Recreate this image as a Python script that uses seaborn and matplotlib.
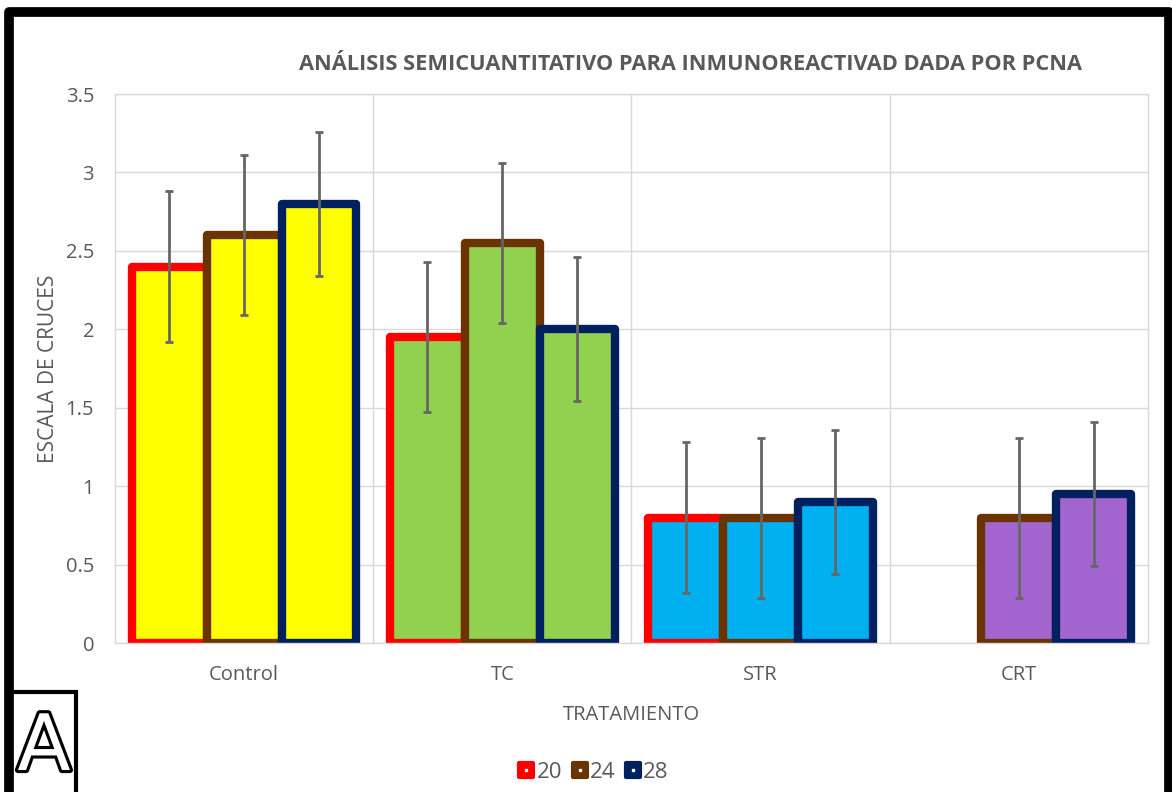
import numpy as np
import pandas as pd
import matplotlib
matplotlib.use("Agg")
import matplotlib.pyplot as plt
import matplotlib.patches as mpatches
import matplotlib.patheffects as pe
from matplotlib.lines import Line2D
from matplotlib.markers import MarkerStyle
from matplotlib.legend_handler import HandlerTuple
import seaborn as sns

# Data: semiquantitative PCNA score per treatment and day
categories = ["Control", "TC", "STR", "CRT"]
groups = ["20", "24", "28"]
vals_20 = [2.4, 1.95, 0.8, np.nan]
vals_24 = [2.6, 2.55, 0.8, 0.8]
vals_28 = [2.8, 2.0, 0.9, 0.95]
err_20 = [0.48, 0.48, 0.48, np.nan]
err_24 = [0.51, 0.51, 0.51, 0.51]
err_28 = [0.46, 0.46, 0.46, 0.46]
y_ticks = [0, 0.5, 1, 1.5, 2, 2.5, 3, 3.5]
y_tick_labels = ["0", "0.5", "1", "1.5", "2", "2.5", "3", "3.5"]

title = "ANÁLISIS SEMICUANTITATIVO PARA INMUNOREACTIVAD DADA POR PCNA"
xlabel = "TRATAMIENTO"
ylabel = "ESCALA DE CRUCES"

fill_colors = ["#FFFF00", "#92D050", "#00B0F0", "#A366D1"]
edge_colors = ["#FF0000", "#6B3300", "#002060"]
text_gray = "#595959"
grid_gray = "#D9D9D9"

values = {"20": vals_20, "24": vals_24, "28": vals_28}
errors = {"20": err_20, "24": err_24, "28": err_28}

rows = []
for g in groups:
    for c, v in zip(categories, values[g]):
        if not np.isnan(v):
            rows.append({"Tratamiento": c, "Dia": g, "Valor": v})
df = pd.DataFrame(rows)

sns.set_theme(style="white")
plt.rcParams["font.family"] = ["Open Sans", "DejaVu Sans"]

fig = plt.figure(figsize=(11.72, 7.92), dpi=100)
ax = fig.add_axes([0.0981, 0.1881, 0.8814, 0.6932])

sns.barplot(data=df, x="Tratamiento", y="Valor", hue="Dia",
            order=categories, hue_order=groups, width=0.87,
            errorbar=None, legend=False, ax=ax)

# Styling each bar: fill by treatment, thick edge by day
bar_containers = list(ax.containers)
for gi, cont in enumerate(bar_containers):
    g = groups[gi]
    for bar in cont:
        cx = bar.get_x() + bar.get_width() / 2
        ci = int(round(cx))
        bar.set_facecolor(fill_colors[ci])
        bar.set_edgecolor(edge_colors[gi])
        bar.set_linewidth(6)
        bar.set_joinstyle("round")
        ax.errorbar(cx, bar.get_height(), yerr=errors[g][ci], fmt="none",
                    ecolor="#666666", elinewidth=2, capsize=3, capthick=2,
                    zorder=5)

ax.set_ylim(0, 3.5)
ax.set_xlim(-0.5, 3.5)
ax.set_yticks(y_ticks)
ax.set_yticklabels(y_tick_labels)
ax.set_xticks(range(len(categories)))
ax.set_xticklabels(categories)
ax.set_xticks([0.5, 1.5, 2.5], minor=True)
ax.tick_params(axis="both", which="both", length=0, labelsize=14.5, colors=text_gray)
ax.tick_params(axis="x", pad=16)
ax.tick_params(axis="y", pad=15)
ax.set_axisbelow(True)
ax.grid(True, axis="y", which="major", color=grid_gray, lw=1)
ax.grid(True, axis="x", which="minor", color=grid_gray, lw=1)
for s in ax.spines.values():
    s.set_visible(True)
    s.set_color(grid_gray)
    s.set_linewidth(1)

ax.set_xlabel(xlabel, fontsize=14.5, color=text_gray)
ax.xaxis.set_label_coords(0.5, -0.113)
ax.set_ylabel(ylabel, fontsize=15, color=text_gray)
ax.yaxis.set_label_coords(-0.054, 0.5)

fig.text(690.5 / 1172, 1 - 64 / 792, title, ha="center", va="center",
         fontsize=15.7, fontweight="bold", color=text_gray)

# Legend with rounded squares and a small white dot
handles = []
for col in edge_colors:
    sq = Line2D([], [], linestyle="none",
                marker=MarkerStyle("s", joinstyle="round"), markersize=10.5,
                markerfacecolor=col, markeredgecolor=col, markeredgewidth=3)
    dot = Line2D([], [], linestyle="none", marker="s", markersize=2,
                 markerfacecolor="white", markeredgecolor="white")
    handles.append((sq, dot))
fig.legend(handles, groups, loc="center", bbox_to_anchor=(593 / 1172, 1 - 772 / 792),
           ncol=3, frameon=False, fontsize=16, labelcolor=text_gray,
           handler_map={tuple: HandlerTuple(ndivide=1)},
           handlelength=0.8, handletextpad=0.05, columnspacing=0.4)

# Outer frame and panel letter box
fig.patches.append(mpatches.Rectangle((9.5 / 1172, -0.05), (1168.5 - 9.5) / 1172,
                                      1.05 - 12 / 792, transform=fig.transFigure,
                                      fill=False, edgecolor="black", lw=7,
                                      joinstyle="round"))
fig.patches.append(mpatches.Rectangle((9.5 / 1172, -0.05), (76 - 9.5) / 1172,
                                      0.05 + (792 - 692) / 792, transform=fig.transFigure,
                                      fill=False, edgecolor="black", lw=3))
fig.text(44 / 1172, 1 - 748 / 792, "A", ha="center", va="center", fontsize=56,
         color="white", family="DejaVu Sans",
         path_effects=[pe.Stroke(linewidth=4.5, foreground="black"), pe.Normal()])

fig.savefig("out.png", dpi=100)
